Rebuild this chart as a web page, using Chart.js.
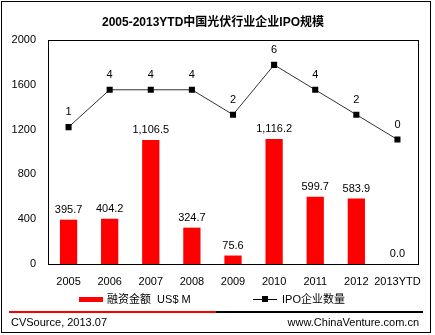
<!DOCTYPE html>
<html>
<head>
<meta charset="utf-8">
<script src="https://cdn.jsdelivr.net/npm/chart.js@4/dist/chart.umd.min.js"></script>
<style>
  html, body { margin: 0; padding: 0; background: #fff; }
  #wrap { width: 435px; height: 335px; }
</style>
</head>
<body>
<div id="wrap"><canvas id="c" width="435" height="335"></canvas></div>
<script>
const years = ["2005", "2006", "2007", "2008", "2009", "2010", "2011", "2012", "2013YTD"];
const amounts = [395.7, 404.2, 1106.5, 324.7, 75.6, 1116.2, 599.7, 583.9, 0.0];
const ipoCounts = [1, 4, 4, 4, 2, 6, 4, 2, 0];
const yTicks = [0, 400, 800, 1200, 1600, 2000];

const FONT = '"Liberation Sans", Arial, "Noto Sans CJK SC", sans-serif';

// labels, legend, frame and footer
const decor = {
  id: "decor",
  afterDraw(chart) {
    const ctx = chart.ctx;
    const area = chart.chartArea;
    ctx.save();

    // plot frame
    ctx.strokeStyle = "#000";
    ctx.lineWidth = 1;
    ctx.strokeRect(Math.round(area.left) + 0.5, Math.round(area.top) + 0.5,
      Math.round(area.right - area.left), Math.round(area.bottom - area.top));

    // outer frame
    ctx.strokeRect(1.5, 1.5, 429, 331);

    // title
    ctx.fillStyle = "#000";
    ctx.font = "bold 12px " + FONT;
    ctx.textAlign = "center";
    ctx.textBaseline = "middle";
    ctx.fillText("2005-2013YTD中国光伏行业企业IPO规模", 213, 23);

    // value labels
    ctx.font = "11px " + FONT;
    ctx.textBaseline = "middle";
    const barMeta = chart.getDatasetMeta(0);
    barMeta.data.forEach((bar, i) => {
      const txt = amounts[i].toLocaleString("en-US", { minimumFractionDigits: 1, maximumFractionDigits: 1 });
      ctx.fillText(txt, bar.x, bar.y - 10);
    });
    const lineMeta = chart.getDatasetMeta(1);
    lineMeta.data.forEach((pt, i) => {
      ctx.fillText(String(ipoCounts[i]), pt.x, pt.y - 15);
    });

    // legend
    ctx.textAlign = "left";
    ctx.fillStyle = "#ff0000";
    ctx.fillRect(79, 297, 24, 5);
    ctx.fillStyle = "#000";
    ctx.font = "11px " + FONT;
    ctx.fillText(chart.data.datasets[0].label, 107, 299.5);
    ctx.strokeStyle = "#000";
    ctx.beginPath();
    ctx.moveTo(253, 299.5);
    ctx.lineTo(277, 299.5);
    ctx.stroke();
    ctx.fillRect(262, 296, 6, 6);
    ctx.fillText(chart.data.datasets[1].label, 282, 299.5);

    // separator
    ctx.fillStyle = "#ff0000";
    ctx.fillRect(9, 311, 207, 2);
    ctx.fillStyle = "#000";
    ctx.fillRect(216, 311, 207, 2);

    // footer
    ctx.font = "11px " + FONT;
    ctx.fillText("CVSource, 2013.07", 11, 323);
    ctx.textAlign = "right";
    ctx.fillText("www.ChinaVenture.com.cn", 419, 323);

    ctx.restore();
  }
};

new Chart(document.getElementById("c"), {
  data: {
    labels: years,
    datasets: [
      {
        type: "bar",
        label: "融资金额  US$ M",
        data: amounts,
        yAxisID: "y",
        backgroundColor: "#ff0000",
        categoryPercentage: 1,
        barPercentage: 0.42,
        order: 1
      },
      {
        type: "line",
        label: "IPO企业数量",
        data: ipoCounts,
        yAxisID: "y1",
        borderColor: "#333",
        borderWidth: 1,
        pointStyle: "rect",
        pointRadius: 4.3,
        pointBorderWidth: 0,
        pointBackgroundColor: "#000",
        order: 0
      }
    ]
  },
  options: {
    responsive: false,
    animation: false,
    events: [],
    layout: { padding: { left: 0, right: 17, top: 40, bottom: 46 } },
    plugins: {
      legend: { display: false },
      title: { display: false },
      tooltip: { enabled: false }
    },
    scales: {
      x: {
        grid: { display: false, drawTicks: false },
        border: { display: false },
        ticks: { color: "#000", font: { family: FONT, size: 11 }, padding: 11, maxRotation: 0, autoSkip: false },
        afterFit(scale) { scale.height = 25; }
      },
      y: {
        min: 0,
        max: 2000,
        afterBuildTicks(scale) { scale.ticks = yTicks.map(v => ({ value: v })); },
        grid: { display: false, drawTicks: false },
        border: { display: false },
        ticks: {
          color: "#000",
          font: { family: FONT, size: 11 },
          padding: 12,
          callback: (v) => String(v)
        },
        afterFit(scale) { scale.width = 48; }
      },
      y1: {
        display: false,
        min: -10,
        max: 8
      }
    }
  },
  plugins: [decor]
});
</script>
</body>
</html>
